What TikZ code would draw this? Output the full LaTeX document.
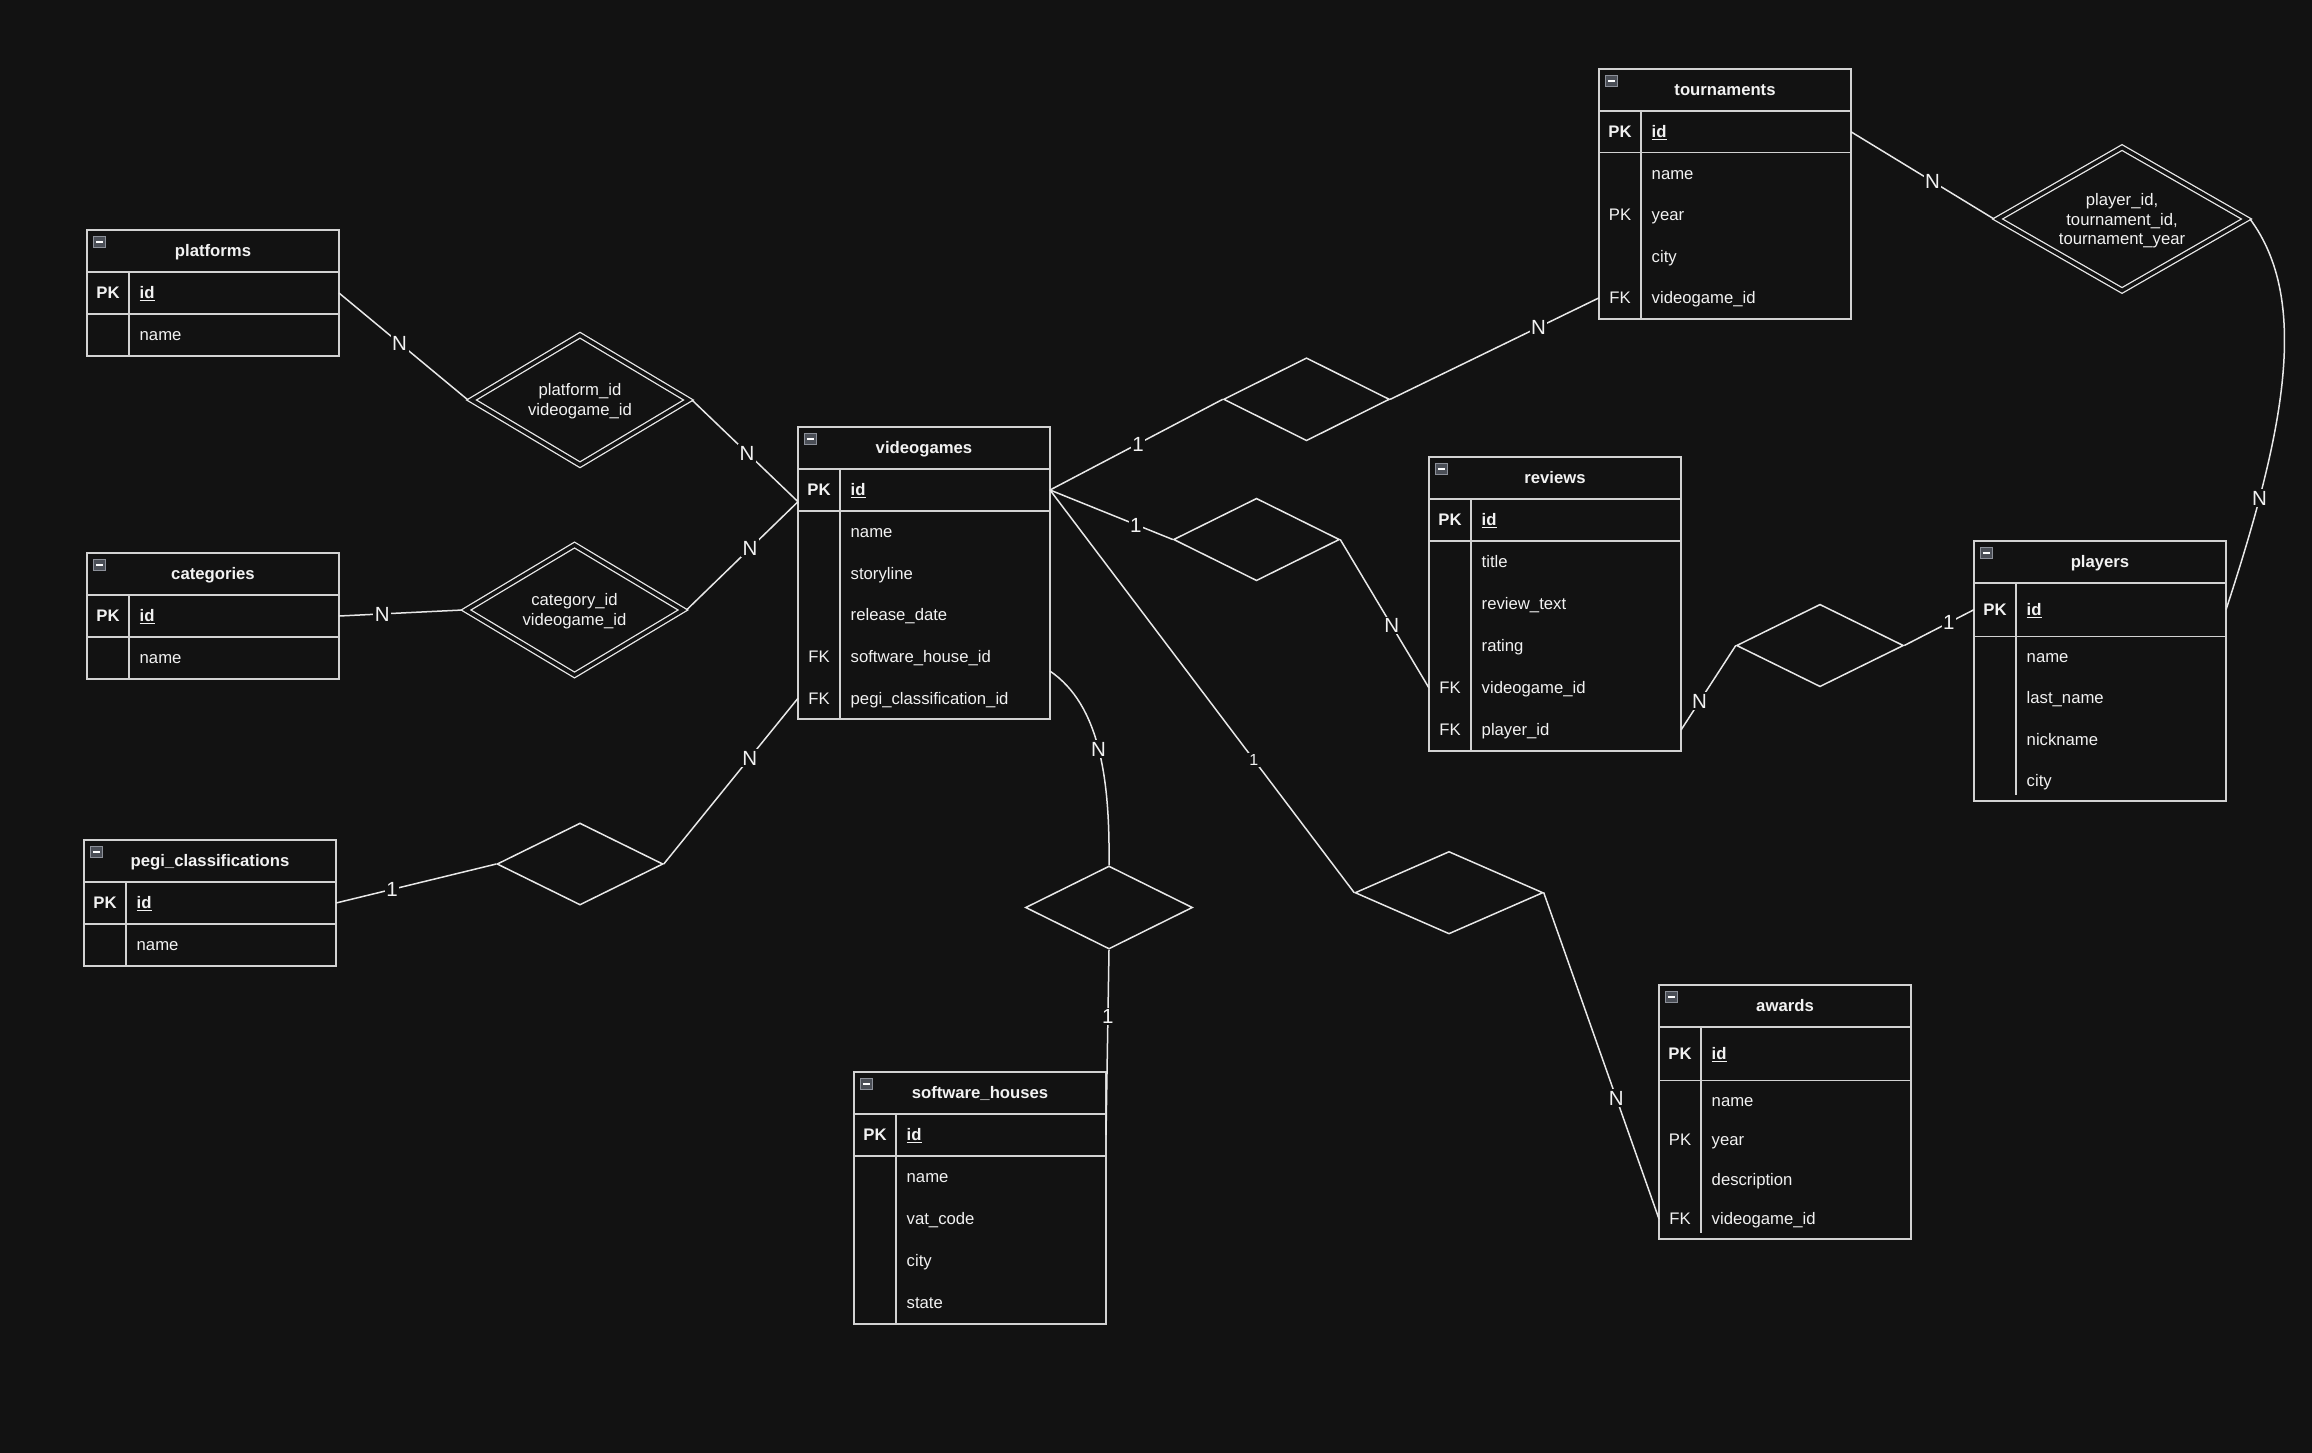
\documentclass[tikz,border=0pt]{standalone}
\usepackage{fontspec}
\setmainfont{Liberation Sans}
\usetikzlibrary{shapes.geometric,calc}

\definecolor{bgc}{HTML}{121212}
\definecolor{edgec}{HTML}{E8E8E8}
\definecolor{tblc}{HTML}{D2D2D2}
\definecolor{txtc}{HTML}{F2F2F2}
\definecolor{iconfill}{HTML}{4A4E56}
\definecolor{iconedge}{HTML}{8C9099}

\newcommand\tblfont{\fontsize{16.7}{20}\selectfont}
\newcommand\relfont{\fontsize{16.7}{19.6}\selectfont}
\newcommand\lblfont{\fontsize{20.5}{24}\selectfont}
\newcommand\smlfont{\fontsize{16}{19}\selectfont}

\tikzset{
  tbl/.style={draw=tblc, line width=1.5pt, fill=bgc, inner sep=0pt, outer sep=0pt,
              anchor=north west, minimum width=252pt},
  sepline/.style={draw=tblc, line width=1.5pt},
  cell/.style={inner sep=0pt, outer sep=0pt, anchor=north west, minimum width=252pt},
  keyt/.style={text=txtc, inner sep=0pt, font=\tblfont, text height=15.1pt, text depth=3.5pt},
  fld/.style={keyt, anchor=west},
  ttl/.style={keyt, font=\tblfont\bfseries},
  icon/.style={draw=iconedge, fill=iconfill, line width=0.8pt, minimum size=11.5pt, inner sep=0pt},
  conn/.style={draw=edgec, line width=1.5pt},
  rel/.style={diamond, draw=edgec, line width=1.5pt, inner sep=0pt},
  wrel/.style={diamond, draw=edgec, double=bgc, double distance=3.6pt, line width=1.3pt,
               inner sep=0pt, outer sep=2.5pt},
  reltxt/.style={text=txtc, font=\relfont, align=center, inner sep=0pt},
  lbl/.style={fill=bgc, text=txtc, font=\lblfont, inner sep=1.5pt, text height=14.7pt, text depth=0pt},
  slbl/.style={lbl, font=\smlfont, text height=11.5pt},
}

% entity table: #1 id, #2 x, #3 y, #4 total height, #5 title, #6 key row height, #7 gap under key column
\newcommand\ertable[7]{%
  \node[tbl, minimum height=#4pt] (#1) at (#2,#3) {};
  \node[ttl] (#1-title) at ($(#1.north)+(0,21)$) {#5};
  \node[icon] (#1-icon) at ($(#1.north west)+(12.3,11.7)$) {};
  \draw[white, line width=1.6pt] ($(#1-icon.west)+(2.6,0)$) -- ($(#1-icon.east)+(-2.6,0)$);
  \draw[sepline] ($(#1.north west)+(0,42)$) -- ($(#1.north east)+(0,42)$);
  \draw[sepline] ($(#1.north west)+(0,42+#6)$) -- ($(#1.north east)+(0,42+#6)$);
  \draw[sepline] ($(#1.north west)+(42,42)$) -- ($(#1.south west)+(42,-#7)$);
  \node[cell, minimum height=#6pt] (#1-id) at (#2,#3+42) {};
  \node[keyt, font=\tblfont\bfseries] at ($(#1-id.west)+(21,0)$) {PK};
  \node[fld, font=\tblfont\bfseries] at ($(#1-id.west)+(52.5,0)$) {\underline{id}};
}

% attribute row: #1 name, #2 x, #3 y top, #4 height, #5 key, #6 field
\newcommand\fieldrow[6]{%
  \node[cell, minimum height=#4pt] (#1) at (#2,#3) {};
  \node[keyt] at ($(#1.west)+(21,0)$) {#5};
  \node[fld] at ($(#1.west)+(52.5,0)$) {#6};
}

\begin{document}
\begin{tikzpicture}[x=1pt,y=-1pt]
\useasboundingbox (0,0) rectangle (2312,1452);
\fill[bgc] (-6,-6) rectangle (2318,1458);

% ---------- entities ----------
\ertable{plat}{87}{230}{126}{platforms}{42}{0}
\fieldrow{plat-name}{87}{314}{42}{}{name}

\ertable{cat}{87}{553}{126}{categories}{42}{0}
\fieldrow{cat-name}{87}{637}{42}{}{name}

\ertable{pegi}{84}{840}{126}{pegi\_classifications}{42}{0}
\fieldrow{pegi-name}{84}{924}{42}{}{name}

\ertable{vg}{798}{427}{292}{videogames}{42}{0}
\fieldrow{vg-name}{798}{511}{41.6}{}{name}
\fieldrow{vg-story}{798}{552.6}{41.6}{}{storyline}
\fieldrow{vg-release}{798}{594.2}{41.6}{}{release\_date}
\fieldrow{vg-swh}{798}{635.8}{41.6}{FK}{software\_house\_id}
\fieldrow{vg-pegi}{798}{677.4}{41.6}{FK}{pegi\_classification\_id}

\ertable{sw}{854}{1072}{252}{software\_houses}{42}{0}
\fieldrow{sw-name}{854}{1156}{42}{}{name}
\fieldrow{sw-vat}{854}{1198}{42}{}{vat\_code}
\fieldrow{sw-city}{854}{1240}{42}{}{city}
\fieldrow{sw-state}{854}{1282}{42}{}{state}

\ertable{trn}{1599}{69}{250}{tournaments}{41.6}{0}
\fieldrow{trn-name}{1599}{152.6}{41.5}{}{name}
\fieldrow{trn-year}{1599}{194.1}{41.5}{PK}{year}
\fieldrow{trn-city}{1599}{235.6}{41.5}{}{city}
\fieldrow{trn-vg}{1599}{277.1}{41.5}{FK}{videogame\_id}

\ertable{rev}{1429}{457}{294}{reviews}{42}{0}
\fieldrow{rev-title}{1429}{541}{42}{}{title}
\fieldrow{rev-text}{1429}{583}{42}{}{review\_text}
\fieldrow{rev-rating}{1429}{625}{42}{}{rating}
\fieldrow{rev-vg}{1429}{667}{42}{FK}{videogame\_id}
\fieldrow{rev-ply}{1429}{709}{42}{FK}{player\_id}

\ertable{ply}{1974}{541}{260}{players}{53.3}{6}
\fieldrow{ply-name}{1974}{636.3}{41.2}{}{name}
\fieldrow{ply-last}{1974}{677.5}{41.2}{}{last\_name}
\fieldrow{ply-nick}{1974}{718.7}{41.2}{}{nickname}
\fieldrow{ply-city}{1974}{759.9}{41.2}{}{city}

\ertable{awd}{1659}{985}{254}{awards}{53.4}{6}
\fieldrow{awd-name}{1659}{1080.4}{39.6}{}{name}
\fieldrow{awd-year}{1659}{1120}{39.6}{PK}{year}
\fieldrow{awd-desc}{1659}{1159.6}{39.6}{}{description}
\fieldrow{awd-vg}{1659}{1199.2}{39.6}{FK}{videogame\_id}

% ---------- relationships ----------
\node[wrel, minimum width=219pt, minimum height=131.6pt] (platrel) at (580,400) {};
\node[reltxt] (platrel-txt) at (580,401) {platform\_id\\videogame\_id};

\node[wrel, minimum width=219pt, minimum height=132pt] (catrel) at (574.5,610) {};
\node[reltxt] (catrel-txt) at (574.5,611) {category\_id\\videogame\_id};

\node[wrel, minimum width=251pt, minimum height=145pt] (tprel) at (2122,219) {};
\node[reltxt] (tprel-txt) at (2122,221) {player\_id,\\tournament\_id,\\tournament\_year};

\node[rel, minimum width=166pt, minimum height=82pt] (pegirel) at (580,864) {};
\node[rel, minimum width=166pt, minimum height=83pt] (tvrel) at (1306.5,399.3) {};
\node[rel, minimum width=166pt, minimum height=82.5pt] (rvrel) at (1256.5,539.5) {};
\node[rel, minimum width=188pt, minimum height=82.5pt] (awrel) at (1449,892.7) {};
\node[rel, minimum width=167pt, minimum height=83pt] (swrel) at (1109,907.5) {};
\node[rel, minimum width=167pt, minimum height=82.5pt] (rprel) at (1820,645.5) {};

% ---------- connectors ----------
\coordinate (vgL) at ($(vg-id.west)+(0,11.7)$);
\coordinate (vgS) at ($(vg-swh.east)+(0,14.5)$);

\draw[conn] (plat-id.east) -- node[lbl, pos=0.47] {N} (platrel.west);
\draw[conn] (platrel.east) -- node[lbl, pos=0.52] {N} (vgL);
\draw[conn] (cat-id.east) -- node[lbl, pos=0.35] {N} (catrel.west);
\draw[conn] (catrel.east) -- node[lbl, pos=0.57] {N} (vgL);
\draw[conn] (pegi-id.east) -- node[lbl, pos=0.35] {1} (pegirel.west);
\draw[conn] (pegirel.east) -- node[lbl, pos=0.64] {N} (vg-pegi.west);

\draw[conn] (vg-id.east) -- node[lbl, pos=0.51] {1} (tvrel.west);
\draw[conn] (tvrel.east) -- node[lbl, pos=0.71] {N} (trn-vg.west);
\draw[conn] (vg-id.east) -- node[lbl, pos=0.70] {1} (rvrel.west);
\draw[conn] (rvrel.east) -- node[lbl, pos=0.58] {N} (rev-vg.west);
\draw[conn] (vg-id.east) -- node[slbl, pos=0.67] {1} (awrel.west);
\draw[conn] (awrel.east) -- node[lbl, pos=0.63] {N} (awd-vg.west);

\draw[conn] (vgS) .. controls (1100,705) and (1110,780) .. (swrel.north) node[lbl, pos=0.5] {N};
\draw[conn] (swrel.south) -- node[lbl, pos=0.36] {1} (sw-id.east);

\draw[conn] (rev-ply.east) -- node[lbl, pos=0.34] {N} (rprel.west);
\draw[conn] (rprel.east) -- node[lbl, pos=0.64] {1} (ply-id.west);

\draw[conn] (trn-id.east) -- node[lbl, pos=0.57] {N} (tprel.west);
\draw[conn] (tprel.east) .. controls (2310,300) and (2285,430) .. (ply-id.east) node[lbl, pos=0.78] {N};
\end{tikzpicture}
\end{document}
